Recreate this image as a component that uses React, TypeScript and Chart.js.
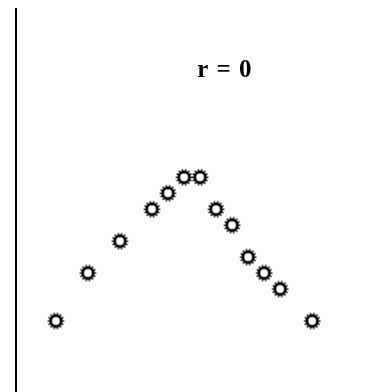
import React, { useEffect, useRef } from "react";
import { Chart, registerables } from "chart.js";

Chart.register(...registerables);

const xValues = [0, 2, 4, 6, 7, 8, 9, 10, 11, 12, 13, 14, 16];
const yValues = [0, 3, 5, 7, 8, 9, 9, 7, 6, 4, 3, 2, 0];
const titleText = "r = 0";

function makeGear(): HTMLCanvasElement {
  const size = 19;
  const c = document.createElement("canvas");
  c.width = size;
  c.height = size;
  const ctx = c.getContext("2d")!;
  const cx = size / 2;
  const cy = size / 2;
  ctx.strokeStyle = "#000";
  ctx.fillStyle = "#000";
  ctx.lineWidth = 2.8;
  ctx.beginPath();
  ctx.arc(cx, cy, 5.3, 0, Math.PI * 2);
  ctx.stroke();
  const teeth = 14;
  for (let i = 0; i < teeth; i++) {
    const a = (i / teeth) * Math.PI * 2;
    ctx.save();
    ctx.translate(cx, cy);
    ctx.rotate(a);
    ctx.fillRect(6.3, -0.7, 2.0, 1.4);
    ctx.restore();
  }
  return c;
}

const titlePlugin = {
  id: "rTitle",
  afterDraw(chart: any) {
    const { ctx, scales } = chart;
    const px = scales.x.getPixelForValue(10.55);
    const py = scales.y.getPixelForValue(15.3);
    ctx.save();
    ctx.font = "bold 25px 'Liberation Serif', 'Times New Roman', serif";
    ctx.fillStyle = "#000";
    ctx.textAlign = "center";
    ctx.textBaseline = "alphabetic";
    (ctx as any).letterSpacing = "1px";
    ctx.fillText(titleText, px, py);
    ctx.restore();
  },
};

export default function App() {
  const ref = useRef<HTMLCanvasElement>(null);
  useEffect(() => {
    const gear = makeGear();
    const chart = new Chart(ref.current!, {
      type: "scatter",
      data: {
        datasets: [
          {
            data: xValues.map((x, i) => ({ x, y: yValues[i] })),
            pointStyle: gear as any,
            pointRadius: 9,
          },
        ],
      },
      options: {
        responsive: false,
        animation: false,
        layout: { autoPadding: false, padding: { left: 16, top: 9, right: 0, bottom: 0 } },
        plugins: { legend: { display: false }, tooltip: { enabled: false } },
        scales: {
          x: { display: false, min: -2.49, max: 20.05 },
          y: {
            display: true,
            min: -4.45,
            max: 19.54,
            ticks: { display: false },
            grid: { display: false, drawTicks: false },
            border: { display: true, color: "#000", width: 2 },
          },
        },
      },
      plugins: [titlePlugin],
    });
    return () => chart.destroy();
  }, []);
  return (
    <div style={{ position: "fixed", left: 0, top: 0, width: 377, height: 392, background: "#fff" }}>
      <canvas ref={ref} width={377} height={392} style={{ width: 377, height: 392 }} />
    </div>
  );
}
